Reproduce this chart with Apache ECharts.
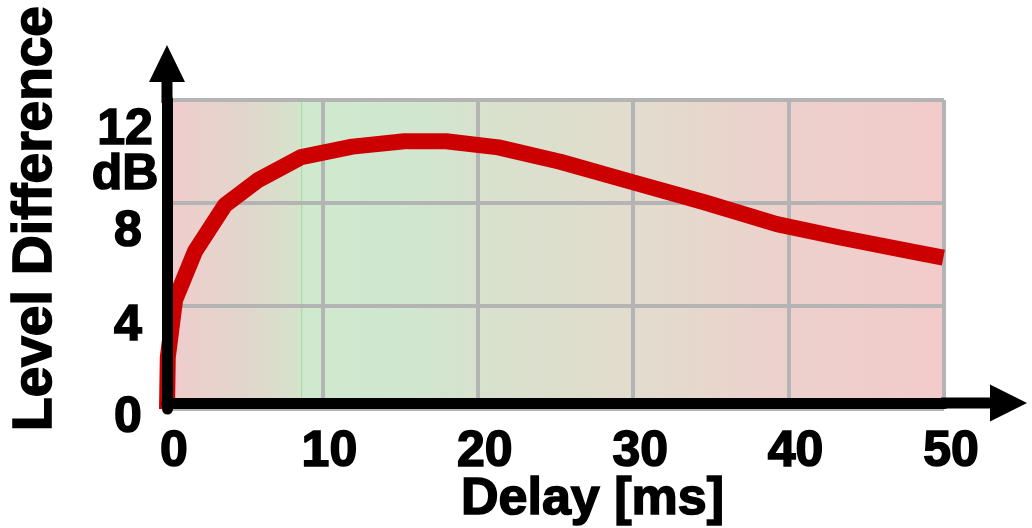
<!DOCTYPE html>
<html>
<head>
<meta charset="utf-8">
<script src="https://cdn.jsdelivr.net/npm/echarts@6/dist/echarts.min.js"></script>
<style>
  html, body { margin: 0; padding: 0; background: #ffffff; }
  #chart { width: 1032px; height: 528px; }
</style>
</head>
<body>
<div id="chart"></div>
<script>
// Level difference vs. delay
const delayMs = [0, 0.05, 0.52, 1.81, 3.73, 5.86, 8.63, 11.93, 15.28, 17.96, 21.33, 25.30, 30.01, 34.63, 39.24, 43.31, 48.03, 49.96];
const levelDb = [0, 2.0, 4.23, 6.13, 7.92, 8.89, 9.78, 10.19, 10.40, 10.40, 10.16, 9.60, 8.80, 8.02, 7.18, 6.66, 6.10, 5.88];
const xTicks = [0, 10, 20, 30, 40, 50];
const yTicks = [0, 4, 8, 12];
const xTitle = 'Delay [ms]';
const yTitle = 'Level Difference';
const yUnit = 'dB';

const FONT = 'Liberation Sans';
const textBase = {
  fontFamily: FONT,
  fontWeight: 'bold',
  color: '#000',
  textBorderColor: '#000',
  textBorderWidth: 1.6
};

// vertical nudge (px) of the lower y tick labels below their grid lines
const yLabelDrop = { 0: 9, 4: 20, 8: 29 };

const chart = echarts.init(document.getElementById('chart'), null, { renderer: 'canvas' });

const points = delayMs.map((d, i) => [d, levelDb[i]]);

const xMin = xTicks[0], xMax = xTicks[xTicks.length - 1], xStep = xTicks[1] - xTicks[0];
const yMin = yTicks[0], yMax = yTicks[yTicks.length - 1], yStep = yTicks[1] - yTicks[0];

const bgGradient = new echarts.graphic.LinearGradient(0, 0, 1, 0, [
  { offset: 0.00, color: '#f0cccc' },
  { offset: 0.10, color: '#e2d6cc' },
  { offset: 0.172, color: '#d4e3cb' },
  { offset: 0.1725, color: '#a9dba9' },
  { offset: 0.1740, color: '#a9dba9' },
  { offset: 0.1745, color: '#cee9ce' },
  { offset: 0.33, color: '#d1e6cf' },
  { offset: 0.42, color: '#d9e1cd' },
  { offset: 0.60, color: '#e2dccd' },
  { offset: 0.80, color: '#edd0cc' },
  { offset: 1.00, color: '#f2cbcb' }
]);

// lower labels: with a fixed lineHeight, a top padding p moves the glyphs down by p/2
const richLow = {};
yTicks.forEach(t => {
  if (t in yLabelDrop) {
    richLow['v' + t] = Object.assign({}, textBase, {
      fontSize: 50, lineHeight: 50, padding: [2 * yLabelDrop[t], 0, 0, 0]
    });
  }
});

// top label "12" with the unit underneath, hung from the top grid line
const richTop = {
  n: Object.assign({}, textBase, { fontSize: 50, lineHeight: 60 }),
  u: Object.assign({}, textBase, { fontSize: 50, lineHeight: 30 })
};

const option = {
  animation: false,
  backgroundColor: '#ffffff',
  grid: {
    left: 167, right: 88, top: 100, bottom: 119,
    outerBoundsMode: 'none',
    show: true,
    backgroundColor: bgGradient,
    borderWidth: 0
  },
  xAxis: [
    {
      type: 'value', min: xMin, max: xMax, interval: xStep,
      offset: -6,
      z: 10,
      axisLine: {
        show: true,
        lineStyle: { color: '#000', width: 11 },
        symbol: ['none', 'path://M18.5,0 L37,37 L24,37 L24,86 L13,86 L13,37 L0,37 Z'],
        symbolSize: [37, 86],
        symbolOffset: [0, 40]
      },
      axisTick: { show: false },
      splitLine: { show: false },
      axisLabel: Object.assign({}, textBase, {
        fontSize: 50, lineHeight: 50, margin: 24, padding: [0, 0, 0, 14],
        showMinLabel: true, showMaxLabel: true, hideOverlap: false
      }),
      name: xTitle,
      nameLocation: 'middle',
      nameGap: 71,
      nameMoveOverlap: false,
      nameTextStyle: Object.assign({}, textBase, {
        fontSize: 52, lineHeight: 52, padding: [0, 0, 0, 74]
      })
    },
    {
      type: 'value', min: xMin, max: xMax, interval: xStep,
      z: 1,
      axisLine: { show: false },
      axisTick: { show: false },
      axisLabel: { show: false },
      splitLine: { show: true, lineStyle: { color: '#b4b4b4', width: 4 } }
    }
  ],
  yAxis: [
    {
      type: 'value', min: yMin, max: yMax, interval: yStep,
      z: 10,
      axisLine: {
        show: true,
        lineStyle: { color: '#000', width: 11 },
        symbol: ['none', 'path://M18,0 L36,37 L23.5,37 L23.5,58 L12.5,58 L12.5,37 L0,37 Z'],
        symbolSize: [36, 58],
        symbolOffset: [0, 26]
      },
      axisTick: { show: false },
      splitLine: { show: false },
      axisLabel: {
        margin: 39,
        align: 'center',
        showMinLabel: true,
        hideOverlap: false,
        formatter: v => (v in yLabelDrop) ? '{v' + v + '|' + v + '}' : '',
        rich: richLow
      },
      name: yTitle,
      nameLocation: 'middle',
      nameRotate: 90,
      nameGap: 104,
      nameMoveOverlap: false,
      nameTextStyle: Object.assign({}, textBase, {
        fontSize: 55, lineHeight: 55, padding: [0, 0, 0, 72]
      })
    },
    {
      type: 'value', min: yMin, max: yMax, interval: yStep,
      position: 'left',
      z: 1,
      axisLine: { show: false },
      axisTick: { show: false },
      axisLabel: {
        show: true,
        margin: 42,
        align: 'center',
        verticalAlign: 'top',
        showMaxLabel: true,
        hideOverlap: false,
        formatter: v => v === yMax ? '{n|' + v + '}\n{u|' + yUnit + '}' : '',
        rich: richTop
      },
      splitLine: { show: true, lineStyle: { color: '#b4b4b4', width: 4 } }
    }
  ],
  series: [
    {
      type: 'line',
      xAxisIndex: 0,
      yAxisIndex: 0,
      data: points,
      symbol: 'none',
      smooth: false,
      clip: false,
      z: 5,
      lineStyle: { color: '#cc0000', width: 16, cap: 'butt', join: 'bevel' }
    }
  ]
};

chart.setOption(option);
</script>
</body>
</html>
